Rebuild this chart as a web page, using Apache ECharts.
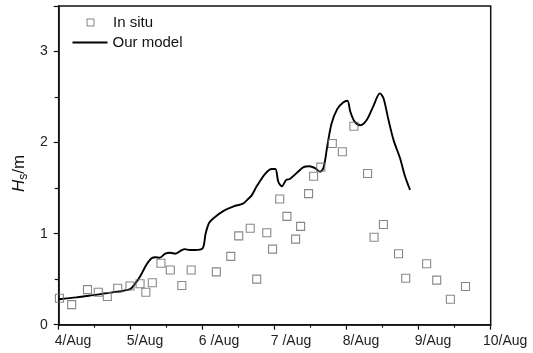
<!DOCTYPE html>
<html>
<head>
<meta charset="utf-8">
<script src="https://cdn.jsdelivr.net/npm/echarts@6/dist/echarts.min.js"></script>
<style>
html,body{margin:0;padding:0;background:#fff;}
#chart{width:533px;height:353px;}
</style>
</head>
<body>
<div id="chart"></div>
<script>
// Day offsets from 4/Aug (0 = 4/Aug 00:00)
const xTickLabels = ['4/Aug', '5/Aug', '6 /Aug', '7 /Aug', '8/Aug', '9/Aug', '10/Aug'];
const xTickNumbers = ['4', '5', '6', '7', '8', '9', '10'];

const inSituDay = [0.01, 0.18, 0.40, 0.55, 0.675, 0.82, 0.99, 1.13, 1.21, 1.30, 1.42, 1.55, 1.71, 1.84,
  2.19, 2.39, 2.50, 2.66, 2.75, 2.89, 2.97, 3.07, 3.17, 3.29, 3.36, 3.47, 3.54, 3.64, 3.80, 3.94,
  4.10, 4.29, 4.38, 4.51, 4.72, 4.82, 5.11, 5.25, 5.44, 5.65];
const inSituHs = [0.29, 0.22, 0.385, 0.356, 0.31, 0.40, 0.425, 0.45, 0.356, 0.46, 0.675, 0.60, 0.43, 0.60,
  0.58, 0.75, 0.975, 1.06, 0.50, 1.01, 0.83, 1.38, 1.19, 0.94, 1.08, 1.44, 1.63, 1.73, 1.99, 1.90,
  2.18, 1.66, 0.96, 1.10, 0.78, 0.51, 0.67, 0.49, 0.28, 0.42];

const modelDay = [0, 0.25, 0.48, 0.75, 0.99, 1.06, 1.13, 1.22, 1.29, 1.35, 1.40, 1.48, 1.55, 1.62, 1.71,
  1.75, 1.82, 1.89, 2.00, 2.04, 2.09, 2.15, 2.29, 2.43, 2.56, 2.63, 2.68, 2.75, 2.87, 2.96, 3.01,
  3.05, 3.10, 3.16, 3.21, 3.31, 3.40, 3.48, 3.56, 3.63, 3.68, 3.73, 3.79, 3.87, 3.95, 4.01, 4.05,
  4.11, 4.19, 4.28, 4.37, 4.46, 4.51, 4.58, 4.65, 4.74, 4.81, 4.88];
const modelHs = [0.28, 0.30, 0.325, 0.355, 0.39, 0.45, 0.53, 0.66, 0.73, 0.74, 0.735, 0.78, 0.79, 0.78, 0.82,
  0.83, 0.82, 0.82, 0.84, 1.00, 1.12, 1.17, 1.25, 1.30, 1.33, 1.38, 1.42, 1.52, 1.66, 1.71, 1.71,
  1.57, 1.52, 1.59, 1.60, 1.67, 1.73, 1.74, 1.72, 1.68, 1.73, 1.96, 2.21, 2.37, 2.44, 2.46, 2.34,
  2.23, 2.19, 2.25, 2.40, 2.54, 2.49, 2.25, 2.03, 1.83, 1.63, 1.48];

const FONT = "'Liberation Sans', Arial, sans-serif";
const AXIS_FS = 14;

// measure suffix widths so that the day number sits centred on its tick
const ctx = document.createElement('canvas').getContext('2d');
ctx.font = AXIS_FS + "px 'Liberation Sans'";
const rich = {};
xTickLabels.forEach((lab, i) => {
  const suffix = lab.slice(xTickNumbers[i].length);
  rich['r' + i] = {
    fontSize: AXIS_FS, fontFamily: FONT, color: '#222',
    padding: [0, 0, 0, ctx.measureText(suffix).width]
  };
});

const chart = echarts.init(document.getElementById('chart'), null, {renderer: 'canvas'});
chart.setOption({
  animation: false,
  backgroundColor: '#fff',
  textStyle: {fontFamily: FONT},
  grid: {
    left: 58.7, right: 42.3, top: 6, bottom: 28.3,
    show: true, borderColor: '#111', borderWidth: 1.5, backgroundColor: 'transparent',
    outerBoundsMode: 'none', containLabel: false
  },
  legend: [
    {
      data: [{name: 'In situ', icon: 'rect',
        itemStyle: {color: 'transparent', borderColor: '#666', borderWidth: 1}}],
      left: 86.5, top: 15, itemWidth: 7, itemHeight: 7, padding: 0,
      textStyle: {fontSize: 15, fontFamily: FONT, color: '#111', padding: [0, 0, 0, 14]}
    },
    {
      data: [{name: 'Our model', icon: 'rect', itemStyle: {color: '#000'}}],
      left: 72.5, top: 35, itemWidth: 35, itemHeight: 1.8, padding: 0,
      textStyle: {fontSize: 15, fontFamily: FONT, color: '#111'}
    }
  ],
  xAxis: {
    type: 'value', min: 0, max: 6, interval: 1,
    axisLine: {show: true, onZero: false, lineStyle: {color: '#111', width: 1.5}},
    axisTick: {show: true, inside: false, length: 5, lineStyle: {color: '#111', width: 1.2}},
    minorTick: {show: true, splitNumber: 2, length: 3, lineStyle: {color: '#111', width: 1.2}},
    splitLine: {show: false},
    axisLabel: {
      margin: 9, fontSize: AXIS_FS, color: '#222', hideOverlap: false,
      formatter: function (v) {
        const i = Math.round(v);
        return '{r' + i + '|' + xTickLabels[i] + '}';
      },
      rich: rich
    }
  },
  yAxis: {
    type: 'value', min: 0, max: 3.5, interval: 1,
    name: '{i|H}{sub|s}{n|/m}',
    nameLocation: 'middle', nameGap: 29, nameRotate: 90, nameMoveOverlap: false,
    nameTextStyle: {
      fontSize: 17, color: '#111', fontFamily: FONT, padding: [0, 16, 0, 0],
      rich: {
        i: {fontSize: 17, fontStyle: 'italic', fontFamily: FONT, color: '#111'},
        sub: {fontSize: 12, fontFamily: FONT, color: '#111', verticalAlign: 'bottom', padding: [8, 0, 0, 0]},
        n: {fontSize: 17, fontFamily: FONT, color: '#111'}
      }
    },
    axisLine: {show: true, onZero: false, lineStyle: {color: '#111', width: 1.5}},
    axisTick: {show: true, inside: false, length: 5, lineStyle: {color: '#111', width: 1.2}},
    minorTick: {show: true, splitNumber: 2, length: 4, lineStyle: {color: '#111', width: 1.2}},
    splitLine: {show: false},
    axisLabel: {margin: 11, fontSize: AXIS_FS, color: '#222', showMaxLabel: false}
  },
  series: [
    {
      name: 'In situ', type: 'scatter', symbol: 'rect', symbolSize: 8,
      itemStyle: {color: 'transparent', borderColor: '#6a6a6a', borderWidth: 1.1},
      data: inSituDay.map((d, i) => [d, inSituHs[i]]),
      z: 3
    },
    {
      name: 'Our model', type: 'line', symbol: 'none', smooth: 0.3,
      lineStyle: {color: '#000', width: 1.9},
      itemStyle: {color: '#000'},
      data: modelDay.map((d, i) => [d, modelHs[i]]),
      z: 2
    }
  ]
});
</script>
</body>
</html>
